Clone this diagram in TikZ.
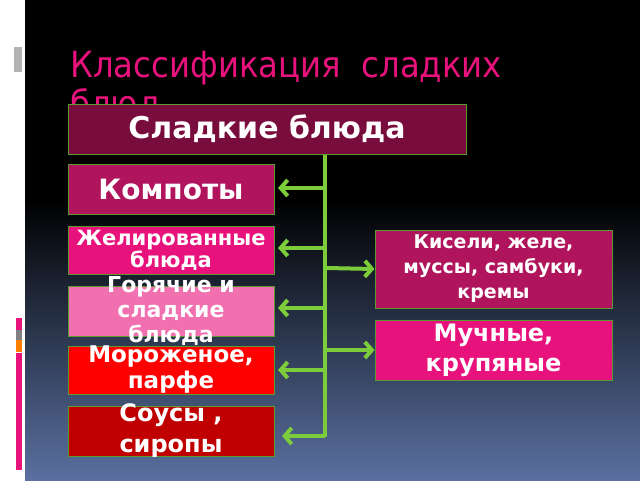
\documentclass[tikz,border=0pt]{standalone}
\usepackage{fontspec}
\setmainfont{DejaVu Sans}
\newfontfamily\titlefont{DejaVu Sans Condensed}
\usetikzlibrary{arrows.meta}
\definecolor{gr}{HTML}{7CCC3C}
\definecolor{bd}{HTML}{5A9A30}
\definecolor{pk}{HTML}{E8127C}
\tikzset{
  box/.style={draw=bd,line width=1pt,inner sep=0pt},
  txt/.style={text=white,align=center,inner sep=0pt},
  arr/.style={draw=gr,line width=4pt,-{Straight Barb[length=7pt,width=16pt,line width=4pt]}},
}
\begin{document}
\begin{tikzpicture}[x=1pt,y=-1pt]
\useasboundingbox (0,0) rectangle (640,480);
\fill[white] (0,0) rectangle (640,480);
\fill[black] (25,0) rectangle (640,200);
\shade[top color=black,bottom color={rgb,255:red,90;green,112;blue,160}] (25,199) rectangle (640,480);
\fill[pk] (16,318) rectangle (22,330);
\fill[gray] (16,330) rectangle (22,340);
\fill[orange] (16,340) rectangle (22,352);
\fill[pk] (16,353) rectangle (22,470);
\fill[gray!60] (14,47) rectangle (22,72);
\node[anchor=base west,text=pk,font=\titlefont\fontsize{36}{38}\selectfont,inner sep=0] (title) at (70,77) {Классификация\ \ сладких};
\node[anchor=base west,text=pk,font=\titlefont\fontsize{36}{38}\selectfont,inner sep=0] (title2) at (70,116) {блюд};
\node[box,fill={rgb,255:red,120;green,12;blue,60},minimum width=398,minimum height=50] (main) at (267,129) {};
\node[txt,font=\bfseries\fontsize{30}{32}\selectfont] (maint) at (main) {Сладкие блюда};
\coordinate (top) at (325,155);
\coordinate (bot) at (325,437);
\draw[gr,line width=4pt] (top) -- (bot);
\tikzset{lb/.style={box,minimum width=206}}
\node[lb,fill={rgb,255:red,176;green,20;blue,92},minimum height=50] (k) at (171,189) {};
\node[txt,font=\bfseries\fontsize{28}{30}\selectfont] (kt) at (k) {Компоты};
\node[lb,fill=pk,minimum height=48] (zh) at (171,250) {};
\node[txt,font=\bfseries\fontsize{21}{22}\selectfont] (zht) at (zh) {Желированные\\блюда};
\node[lb,fill={rgb,255:red,240;green,112;blue,176},minimum height=50] (g) at (171,311) {};
\node[txt,font=\bfseries\fontsize{22}{25}\selectfont] (gt) at (g) {Горячие и\\сладкие\\блюда};
\node[lb,fill=red,minimum height=48] (m) at (171,370) {};
\node[txt,font=\bfseries\fontsize{23}{26}\selectfont] (mt) at (m) {Мороженое,\\парфе};
\node[lb,fill={rgb,255:red,192;green,0;blue,0},minimum height=50] (s) at (171,431) {};
\node[txt,font=\bfseries\fontsize{24}{31}\selectfont] (st) at (s) {Соусы ,\\сиропы};
\node[box,fill={rgb,255:red,176;green,20;blue,92},minimum width=237,minimum height=78] (ki) at (493.5,269) {};
\node[txt,font=\bfseries\fontsize{19}{25}\selectfont] (kit) at (ki) {Кисели, желе,\\муссы, самбуки,\\кремы};
\node[box,fill=pk,minimum width=237,minimum height=60] (mu) at (493.5,350) {};
\node[txt,font=\bfseries\fontsize{24}{30}\selectfont] (mut) at (mu) {Мучные,\\крупяные};
\draw[arr] (325,188) -- (278,188);
\draw[arr] (325,248) -- (278,248);
\draw[arr] (325,308) -- (278,308);
\draw[arr] (325,370) -- (278,370);
\draw[arr] (325,436) -- (282,436);
\draw[arr] (327,268) -- (ki.west);
\draw[arr] (327,350) -- (mu.west);
\end{tikzpicture}
\end{document}
